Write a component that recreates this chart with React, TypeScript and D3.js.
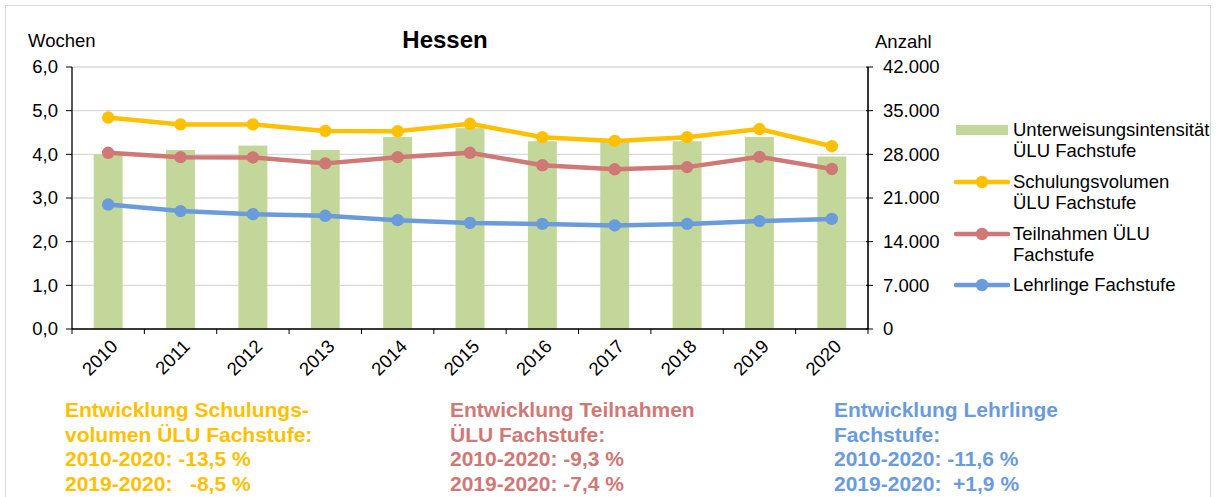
import React from "react";
import * as d3 from "d3";

const years = ["2010","2011","2012","2013","2014","2015","2016","2017","2018","2019","2020"];
const intensitaet = [4.0, 4.1, 4.2, 4.1, 4.4, 4.6, 4.3, 4.3, 4.3, 4.4, 3.95];
const schulungsvolumen = [33900, 32800, 32800, 31750, 31700, 32900, 30750, 30150, 30750, 32050, 29300];
const teilnahmen = [28250, 27550, 27500, 26550, 27550, 28250, 26250, 25600, 25950, 27600, 25650];
const lehrlinge = [19950, 18900, 18400, 18150, 17450, 17000, 16850, 16600, 16850, 17300, 17650];
const leftTicks = [0, 1, 2, 3, 4, 5, 6];
const rightTicks = [0, 7000, 14000, 21000, 28000, 35000, 42000];

const legendItems = [
  { kind: "bar", color: "#C4D79B", lines: ["Unterweisungsintensität", "ÜLU Fachstufe"] },
  { kind: "line", color: "#FFC000", lines: ["Schulungsvolumen", "ÜLU Fachstufe"] },
  { kind: "line", color: "#D07876", lines: ["Teilnahmen ÜLU", "Fachstufe"] },
  { kind: "line", color: "#6A9BDA", lines: ["Lehrlinge Fachstufe"] },
];

const notes = [
  { color: "#FFC000", x: 65, lines: ["Entwicklung Schulungs-", "volumen ÜLU Fachstufe:", "2010-2020: -13,5 %", "2019-2020:   -8,5 %"] },
  { color: "#D07876", x: 450, lines: ["Entwicklung Teilnahmen", "ÜLU Fachstufe:", "2010-2020: -9,3 %", "2019-2020: -7,4 %"] },
  { color: "#6A9BDA", x: 834, lines: ["Entwicklung Lehrlinge", "Fachstufe:", "2010-2020: -11,6 %", "2019-2020:  +1,9 %"] },
];

const FONT = "'Liberation Sans', Arial, sans-serif";
const FS = 18.5;

export default function App() {
  const W = 1220, H = 497;
  const L = 72, R = 868, T = 67, B = 329;
  const x = d3.scaleBand().domain(years).range([L, R]).paddingInner(0.6).paddingOuter(0.3);
  const xb = d3.scaleBand().domain(years).range([L, R]);
  const yL = d3.scaleLinear().domain([0, 6]).range([B, T]);
  const yR = d3.scaleLinear().domain([0, 42000]).range([B, T]);
  const cx = (yr: string) => (xb(yr) as number) + xb.bandwidth() / 2;
  const fmtL = (v: number) => d3.format(".1f")(v).replace(".", ",");
  const fmtR = (v: number) => (v === 0 ? "0" : d3.format(",")(v).replace(/,/g, "."));
  const line = d3.line<number>().x((_, i) => cx(years[i])).y((d) => yR(d));
  const series = [
    { data: schulungsvolumen, color: "#FFC000" },
    { data: teilnahmen, color: "#D07876" },
    { data: lehrlinge, color: "#6A9BDA" },
  ];
  const tickPos = years.map((y) => xb(y) as number).concat([R]);

  return (
    <svg width={W} height={H} style={{ display: "block", position: "absolute", left: 0, top: 0 }} fontFamily={FONT}>
      <rect x={0} y={0} width={W} height={H} fill="#fff" />
      <path d={`M5.5,${H} V5.5 H1210.5 V${H}`} fill="none" stroke="#d9d9d9" strokeWidth={1} />
      {leftTicks.map((t) => (
        <line key={"g" + t} x1={L} x2={R} y1={yL(t)} y2={yL(t)} stroke="#d9d9d9" strokeWidth={1.3} />
      ))}
      {years.map((yr, i) => (
        <rect key={"b" + yr} x={x(yr)} y={yL(intensitaet[i])} width={x.bandwidth()} height={B - yL(intensitaet[i])} fill="#C4D79B" />
      ))}
      {series.map((s, si) => (
        <g key={"s" + si}>
          <path d={line(s.data) as string} fill="none" stroke={s.color} strokeWidth={4.5} strokeLinejoin="round" />
          {s.data.map((v, i) => (
            <circle key={i} cx={cx(years[i])} cy={yR(v)} r={6.2} fill={s.color} />
          ))}
        </g>
      ))}
      {/* left axis */}
      <line x1={L} x2={L} y1={T} y2={B} stroke="#000" strokeWidth={1.3} />
      {leftTicks.map((t) => (
        <g key={"lt" + t}>
          <line x1={L - 6} x2={L} y1={yL(t)} y2={yL(t)} stroke="#000" strokeWidth={1} />
          <text x={58} y={yL(t)} dy="0.35em" textAnchor="end" fontSize={FS} fill="#000">{fmtL(t)}</text>
        </g>
      ))}
      {/* right axis */}
      <line x1={R} x2={R} y1={T} y2={B} stroke="#000" strokeWidth={1.6} />
      {rightTicks.map((t) => (
        <g key={"rt" + t}>
          <line x1={R - 2} x2={R + 5} y1={yR(t)} y2={yR(t)} stroke="#000" strokeWidth={1} />
          <text x={883} y={yR(t)} dy="0.35em" textAnchor="start" fontSize={FS} fill="#000">{fmtR(t)}</text>
        </g>
      ))}
      {/* x axis */}
      <line x1={L} x2={R} y1={B} y2={B} stroke="#000" strokeWidth={1.3} />
      {tickPos.map((p, i) => (
        <line key={"xt" + i} x1={p} x2={p} y1={B} y2={B + 5} stroke="#000" strokeWidth={1} />
      ))}
      {years.map((yr) => (
        <text key={"xl" + yr} transform={`translate(${cx(yr) + 6},${B + 14}) rotate(-45)`} textAnchor="end" dy="0.35em" fontSize={FS} fill="#000">{yr}</text>
      ))}
      {/* titles */}
      <text x={445} y={48} textAnchor="middle" fontSize={24} fontWeight="bold" fill="#000">Hessen</text>
      <text x={28} y={47} fontSize={FS} fill="#000">Wochen</text>
      <text x={875} y={48} fontSize={FS} fill="#000">Anzahl</text>
      {/* legend */}
      {legendItems.map((it, i) => {
        const ys = [130, 182, 234, 285][i];
        return (
          <g key={"lg" + i}>
            {it.kind === "bar" ? (
              <rect x={956} y={ys - 5} width={52} height={10} fill={it.color} />
            ) : (
              <g>
                <line x1={956} x2={1008} y1={ys} y2={ys} stroke={it.color} strokeWidth={4.5} strokeLinecap="round" />
                <circle cx={982} cy={ys} r={6.2} fill={it.color} />
              </g>
            )}
            {it.lines.map((ln, j) => (
              <text key={j} x={1013} y={ys + j * 21} dy="0.35em" fontSize={FS} fill="#000">{ln}</text>
            ))}
          </g>
        );
      })}
      {/* notes */}
      {notes.map((n, i) => (
        <g key={"n" + i}>
          {n.lines.map((ln, j) => (
            <text key={j} x={n.x} y={410 + j * 24.5} dy="0.35em" fontSize={21} fontWeight="bold" fill={n.color} style={{ whiteSpace: "pre" }}>{ln}</text>
          ))}
        </g>
      ))}
    </svg>
  );
}
